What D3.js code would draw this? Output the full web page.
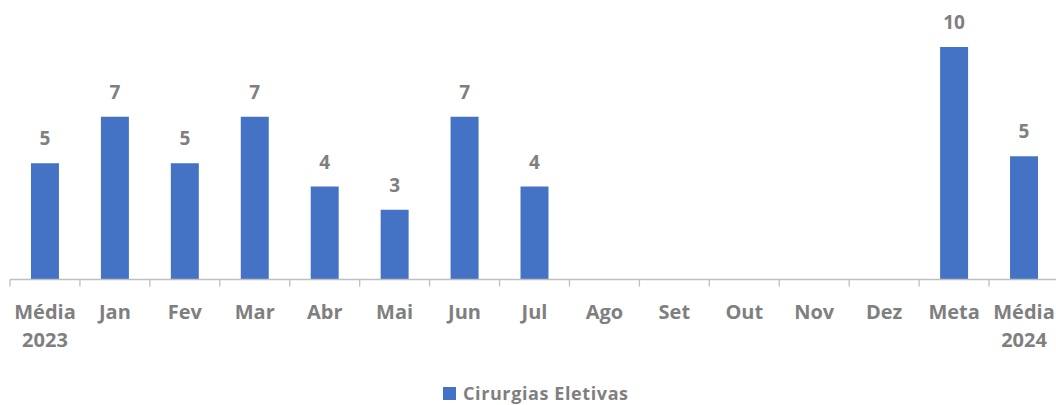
<!DOCTYPE html>
<html><head><meta charset="utf-8">
<script src="https://cdn.jsdelivr.net/npm/d3@7"></script>
<style>body{margin:0;background:#fff}svg{display:block}</style>
</head><body>
<svg id="c" width="1056" height="405"></svg>
<script>
const categories = [["Média","2023"],["Jan"],["Fev"],["Mar"],["Abr"],["Mai"],["Jun"],["Jul"],["Ago"],["Set"],["Out"],["Nov"],["Dez"],["Meta"],["Média","2024"]];
const values = [5, 7, 5, 7, 4, 3, 7, 4, null, null, null, null, null, 10, 5.3];
const seriesName = "Cirurgias Eletivas";

const svg = d3.select("#c");
const font = "'Open Sans', sans-serif";
const gray = "#7f7f7f";
const keys = categories.map((c,i)=>i);
const x = d3.scaleBand().domain(keys).range([10, 1059]).paddingInner(0.6).paddingOuter(0.3);
const y = d3.scaleLinear().domain([0, 10]).range([279.5, 47]);

svg.append("g").selectAll("rect").data(values.map((v,i)=>({v,i})).filter(d=>d.v!=null))
  .join("rect").attr("x",d=>x(d.i)).attr("width",x.bandwidth())
  .attr("y",d=>y(d.v)).attr("height",d=>y(0)-y(d.v)).attr("fill","#4472C4");

svg.append("g").selectAll("text").data(values.map((v,i)=>({v,i})).filter(d=>d.v!=null))
  .join("text").attr("x",d=>x(d.i)+x.bandwidth()/2).attr("y",d=>y(d.v)-18)
  .attr("text-anchor","middle").attr("font-family",font).attr("font-weight","bold")
  .attr("font-size",19).attr("fill",gray).text(d=>d3.format(".0f")(d.v));

// axis
const step = x.step();
const x0 = x.range()[0];
const ax = svg.append("g");
ax.append("line").attr("x1",x0).attr("x2",x.range()[1]).attr("y1",y(0)).attr("y2",y(0)).attr("stroke","#bfbfbf").attr("stroke-width",1.3);
ax.selectAll("line.t").data(keys).join("line").attr("class","t")
  .attr("x1",i=>x0+i*step).attr("x2",i=>x0+i*step).attr("y1",y(0)).attr("y2",y(0)+7)
  .attr("stroke","#bfbfbf").attr("stroke-width",1.3);
const lbl = ax.selectAll("text").data(keys).join("text")
  .attr("x",i=>x(i)+x.bandwidth()/2).attr("y",319).attr("text-anchor","middle")
  .attr("font-family",font).attr("font-weight","bold").attr("font-size",20).attr("fill",gray);
lbl.each(function(i){
  const t=d3.select(this);
  categories[i].forEach((s,k)=>t.append("tspan").attr("x",x(i)+x.bandwidth()/2).attr("dy",k?28:0).text(s));
});

// legend
const lg = svg.append("g");
lg.append("rect").attr("x",443).attr("y",387).attr("width",13).attr("height",13).attr("fill","#4472C4");
lg.append("text").attr("x",463).attr("y",400).attr("font-family",font).attr("font-weight","bold")
  .attr("font-size",18).attr("letter-spacing",0.6).attr("fill",gray).text(seriesName);
</script>
</body></html>
